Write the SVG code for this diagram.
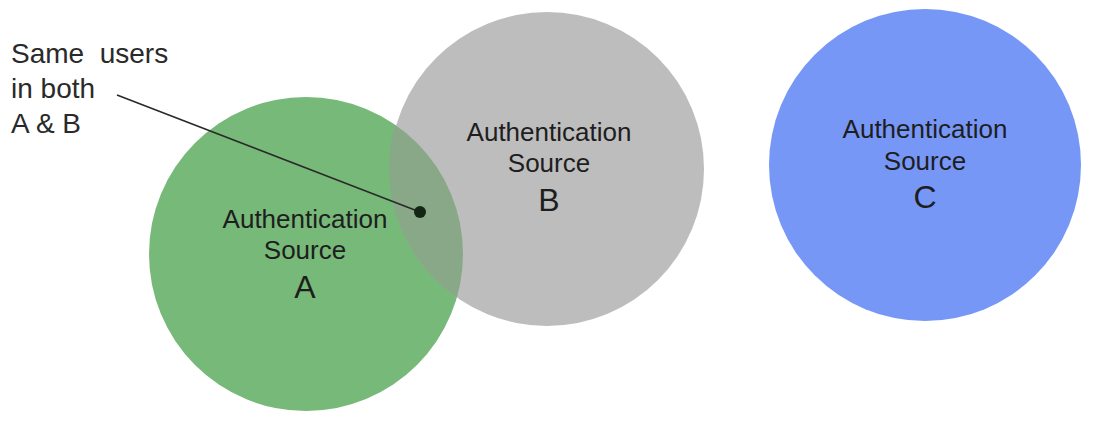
<svg xmlns="http://www.w3.org/2000/svg" width="1099" height="422" viewBox="0 0 1099 422">
  <style>
    .lbl { font-family: "Liberation Sans", Arial, sans-serif; font-size: 26px; fill: #1e1e1e; text-anchor: middle; }
    .big { font-family: "Liberation Sans", Arial, sans-serif; font-size: 32px; fill: #1e1e1e; text-anchor: middle; }
    .note { font-family: "Liberation Sans", Arial, sans-serif; font-size: 28px; fill: #2a2a2a; }
  </style>
  <defs>
    <clipPath id="clipB">
      <circle cx="547" cy="168" r="158"/>
    </clipPath>
  </defs>
  <rect width="1099" height="422" fill="#ffffff"/>
  <g id="nodeA">
    <circle cx="306" cy="254" r="157" fill="#77b978"/>
  </g>
  <g id="nodeB">
    <circle cx="547" cy="169" r="157" fill="#bdbdbd"/>
    <circle cx="306" cy="254" r="157" fill="#88a888" clip-path="url(#clipB)"/>
  </g>
  <g id="nodeC">
    <circle cx="925" cy="165" r="156" fill="#7797f7"/>
  </g>
  <g id="labelA">
    <text class="lbl" x="305" y="228">Authentication</text>
    <text class="lbl" x="305" y="259">Source</text>
    <text class="big" x="305" y="298">A</text>
  </g>
  <g id="labelB">
    <text class="lbl" x="549" y="141">Authentication</text>
    <text class="lbl" x="549" y="172">Source</text>
    <text class="big" x="549" y="211">B</text>
  </g>
  <g id="labelC">
    <text class="lbl" x="925" y="138">Authentication</text>
    <text class="lbl" x="925" y="170">Source</text>
    <text class="big" x="925" y="208">C</text>
  </g>
  <g id="note">
    <text class="note" x="11" y="63" xml:space="preserve">Same  users</text>
    <text class="note" x="11" y="98">in both</text>
    <text class="note" x="11" y="133">A &amp; B</text>
  </g>
  <g id="connectors">
    <line x1="117" y1="95" x2="420" y2="212" stroke="#2a2a2a" stroke-width="1.6"/>
    <circle cx="420" cy="212" r="6" fill="#152515"/>
  </g>
</svg>
